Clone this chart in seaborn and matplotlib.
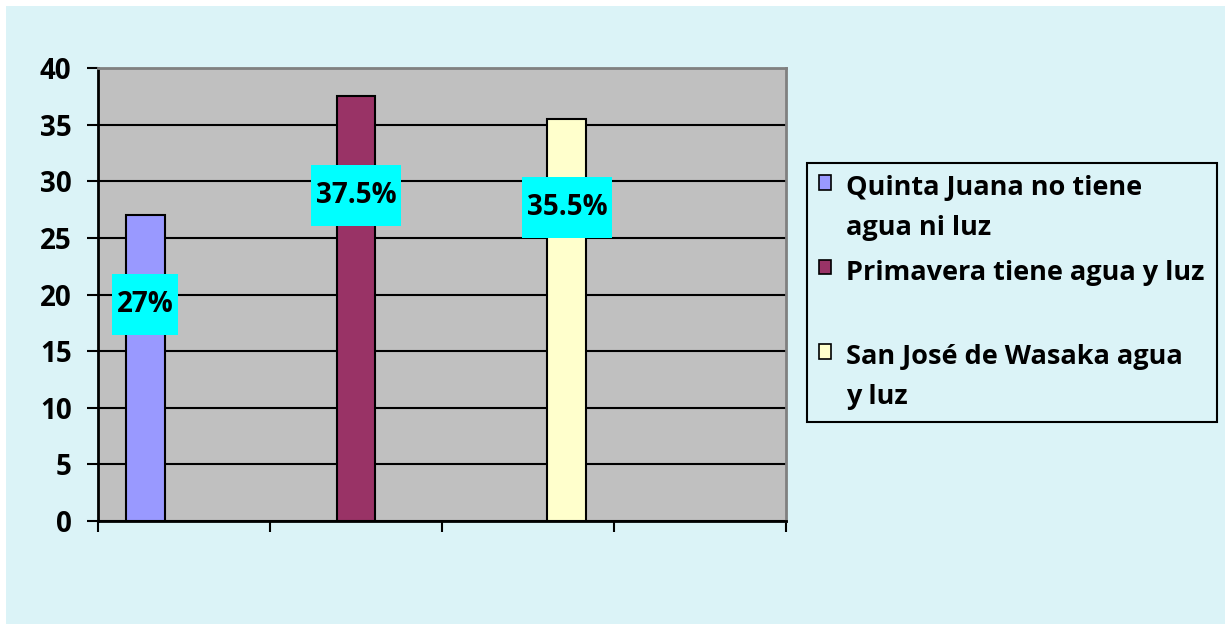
import numpy as np
import pandas as pd
import matplotlib.pyplot as plt
import matplotlib.patches as mpatches
from matplotlib.path import Path
import seaborn as sns

sns.set_style('white')
plt.rcParams['font.family'] = ['Open Sans', 'DejaVu Sans']
plt.rcParams['font.weight'] = 'bold'
plt.rcParams['text.color'] = 'black'
plt.rcParams['ytick.color'] = 'black'
plt.rcParams['xtick.color'] = 'black'

# data
slots = ['s1', 's2', 's3', 's4']
series = ['Quinta Juana no tiene agua ni luz',
          'Primavera tiene agua y luz',
          'San José de Wasaka agua y luz']
legend_labels = ['Quinta Juana no tiene\nagua ni luz',
                 'Primavera tiene agua y luz\n ',
                 'San José de Wasaka agua\ny luz']
values = [27, 37.5, 35.5]
value_labels = ['27%', '37.5%', '35.5%']
colors = ['#9999FF', '#993366', '#FFFFCC']
yticks = [0, 5, 10, 15, 20, 25, 30, 35, 40]

# how far below the bar top each label box sits (data units)
label_drop = [7.85, 8.75, 7.8]

bg = '#DBF3F7'
df = pd.DataFrame({'slot': slots[:3], 'serie': series, 'valor': values})

fig = plt.figure(figsize=(12.25, 6.24), dpi=100)
fig.patch.set_facecolor('white')
fig.patches.append(mpatches.Rectangle((6 / 1225, 0), 1, 1 - 6 / 624,
                                      transform=fig.transFigure,
                                      facecolor=bg, edgecolor='none', zorder=-10))

ax = fig.add_axes([98 / 1225, 1 - 521 / 624, (786 - 98) / 1225, (521 - 68) / 624])
ax.set_facecolor('#C0C0C0')

sns.barplot(data=df, x='slot', y='valor', hue='serie', order=slots,
            hue_order=series, palette=colors, saturation=1, width=0.68,
            dodge=True, edgecolor='black', linewidth=1.5, legend=False, ax=ax)

ax.set_xlim(-0.5, 3.5)
ax.set_ylim(0, 40)
ax.set_yticks(yticks)
ax.set_xticks(np.arange(-0.5, 4, 1))
ax.set_xticklabels([])
ax.set_xlabel('')
ax.set_ylabel('')
ax.yaxis.grid(True, color='black', linewidth=1.5)
ax.set_axisbelow(True)
ax.tick_params(axis='y', direction='out', length=8, width=1.5, pad=11,
               labelsize=20, left=True, labelcolor='black')
ax.tick_params(axis='x', direction='out', length=8, width=1.5, bottom=True)
for lab in ax.get_yticklabels():
    lab.set_fontweight('bold')
for side in ['left', 'bottom']:
    ax.spines[side].set_color('black')
    ax.spines[side].set_linewidth(2)
for side in ['top', 'right']:
    ax.spines[side].set_color('#808080')
    ax.spines[side].set_linewidth(2)


def tall_box(x0, y0, width, height, mutation_size):
    px = 0.17 * mutation_size
    py = 0.58 * mutation_size
    x0, y0 = x0 - px, y0 - py
    x1, y1 = x0 + width + 2 * px, y0 + height + 2 * py
    return Path([(x0, y0), (x1, y0), (x1, y1), (x0, y1), (x0, y0)], closed=True)


bars = [p for p in ax.patches if p.get_height() > 0]
for bar, val, txt, drop in zip(bars, values, value_labels, label_drop):
    xc = bar.get_x() + bar.get_width() / 2
    ax.text(xc, val - drop, txt, ha='center', va='center', fontsize=20,
            fontweight='bold', color='black', zorder=5,
            bbox=dict(boxstyle=tall_box, facecolor='#00FFFF', edgecolor='none'))

handles = [mpatches.Patch(facecolor=c, edgecolor='black', linewidth=1.2) for c in colors]
leg = fig.legend(handles, legend_labels, loc='upper left',
                 bbox_to_anchor=(807 / 1225, 1 - 163 / 624),
                 prop={'size': 19.5, 'weight': 'bold'},
                 frameon=True, fancybox=False, framealpha=1,
                 facecolor=bg, edgecolor='black',
                 handlelength=0.45, handleheight=0.45, handletextpad=0.55,
                 borderpad=0.45, labelspacing=0.7, borderaxespad=0)
leg.get_frame().set_linewidth(1.5)
for t in leg.get_texts():
    t.set_linespacing(1.68)
    t.set_color('black')
for col in leg._legend_handle_box.get_children():
    for item in col.get_children():
        item.align = 'top'

fig.savefig('out.png', dpi=100, facecolor=fig.get_facecolor())
